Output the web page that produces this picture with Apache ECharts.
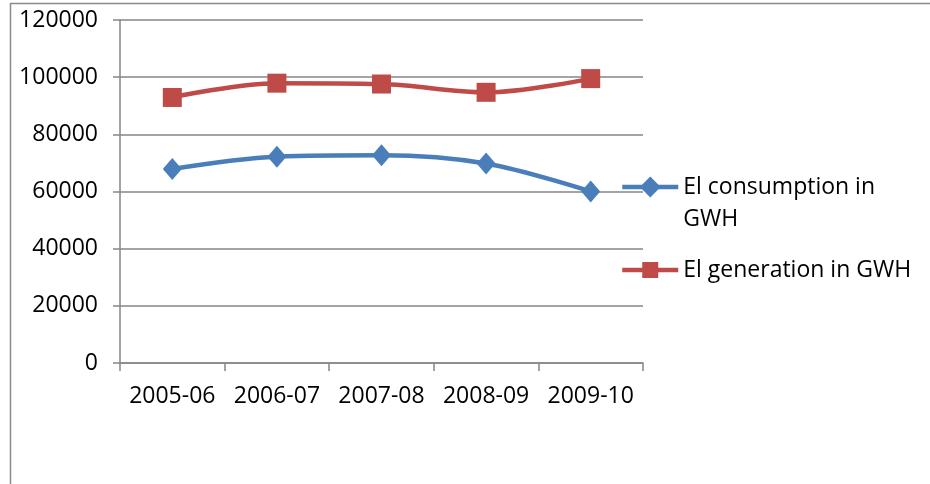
<!DOCTYPE html>
<html>
<head>
<meta charset="utf-8">
<script src="https://cdn.jsdelivr.net/npm/echarts@6/dist/echarts.min.js"></script>
<style>
html,body{margin:0;padding:0;background:#fff;}
#chart{width:930px;height:484px;}
</style>
</head>
<body>
<div id="chart"></div>
<script>
var categories = ['2005-06', '2006-07', '2007-08', '2008-09', '2009-10'];
var consumption = [67900, 72200, 72700, 69800, 60000];
var generation = [92900, 97900, 97600, 94700, 99500];
var yTicks = {min: 0, max: 120000, interval: 20000};
var seriesNames = ['El consumption in GWH', 'El generation in GWH'];

var FONT = '"Open Sans", sans-serif';
var FS = 23;
var chart = echarts.init(document.getElementById('chart'), null, {renderer: 'canvas'});
var LH = 32;
chart.setOption({
  animation: false,
  backgroundColor: '#ffffff',
  grid: {left: 120, right: 287, top: 20, bottom: 121},
  xAxis: {
    type: 'category',
    data: categories,
    boundaryGap: true,
    axisLine: {lineStyle: {color: '#868686', width: 1.5}},
    axisTick: {show: true, interval: 0, length: 8, lineStyle: {color: '#868686', width: 1.5}},
    axisLabel: {color: '#000', fontSize: FS, fontFamily: FONT, margin: 22, interval: 0, hideOverlap: false}
  },
  yAxis: {
    type: 'value',
    min: yTicks.min, max: yTicks.max, interval: yTicks.interval,
    axisLine: {show: true, lineStyle: {color: '#868686', width: 1.5}},
    axisTick: {show: true, length: 7, lineStyle: {color: '#868686', width: 1.5}},
    splitLine: {lineStyle: {color: '#868686', width: 1.5}},
    axisLabel: {color: '#000', fontSize: FS, fontFamily: FONT, margin: 22,
      formatter: function (v) { return String(v); }}
  },
  legend: [{
    data: [seriesNames[0]],
    orient: 'vertical', left: 615, top: 134,
    itemWidth: 56, itemHeight: 26, itemGap: 0,
    lineStyle: {width: 4.5},
    formatter: function () { return ' \nEl consumption in\nGWH'; },
    textStyle: {color: '#000', fontSize: FS, fontFamily: FONT, lineHeight: LH}
  }, {
    data: [seriesNames[1]],
    orient: 'vertical', left: 615, top: 249,
    itemWidth: 56, itemHeight: 20, itemGap: 0,
    lineStyle: {width: 4.5},
    textStyle: {color: '#000', fontSize: FS, fontFamily: FONT, lineHeight: LH}
  }],
  graphic: [
    {type: 'line', shape: {x1: 10.5, y1: 3, x2: 10.5, y2: 484}, style: {stroke: '#8a8a8a', lineWidth: 1.5}, silent: true},
    {type: 'line', shape: {x1: 10, y1: 3.5, x2: 930, y2: 3.5}, style: {stroke: '#8a8a8a', lineWidth: 1.5}, silent: true}
  ],
  series: [{
    name: seriesNames[0],
    type: 'line',
    data: consumption,
    smooth: 0.35,
    symbol: 'diamond',
    symbolSize: [19, 22],
    lineStyle: {color: '#4a7ebb', width: 4.5},
    itemStyle: {color: '#4a7ebb'}
  }, {
    name: seriesNames[1],
    type: 'line',
    data: generation,
    smooth: 0.35,
    symbol: 'rect',
    symbolSize: 19,
    lineStyle: {color: '#be4b48', width: 4.5},
    itemStyle: {color: '#be4b48'}
  }]
});
</script>
</body>
</html>
